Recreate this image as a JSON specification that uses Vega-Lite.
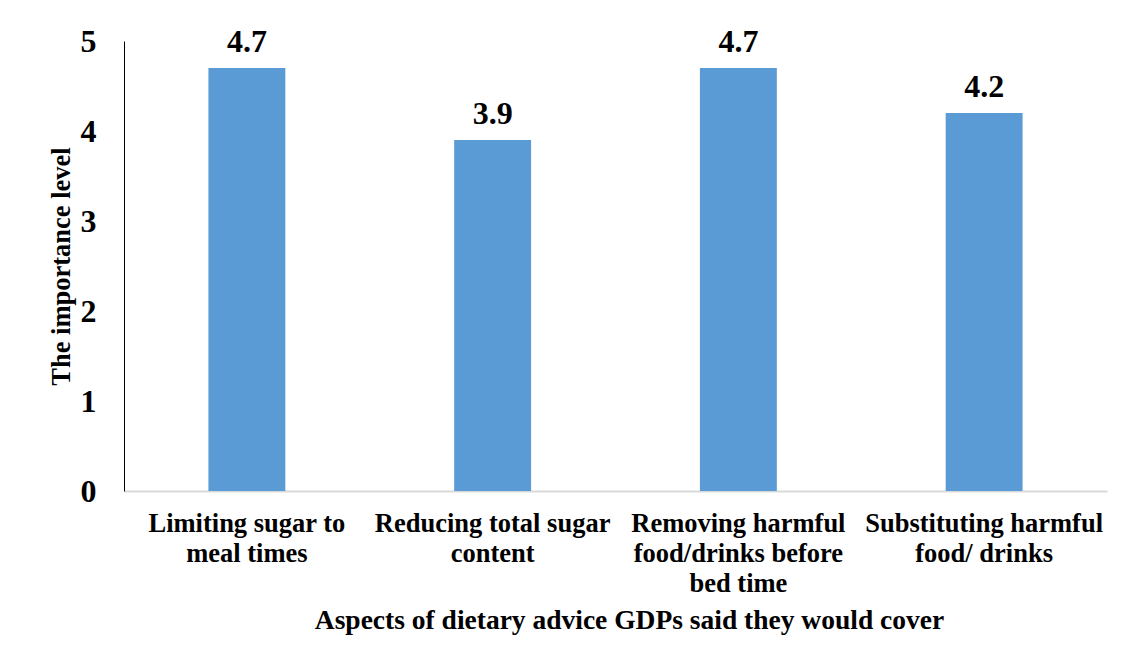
{
  "$schema": "https://vega.github.io/schema/vega-lite/v6.json",
  "autosize": {"type": "none"},
  "width": 983,
  "height": 450,
  "padding": {"left": 124, "top": 41, "right": 26, "bottom": 173},
  "background": "white",
  "config": {
    "view": {"stroke": null},
    "font": "Times New Roman, Liberation Serif, serif"
  },
  "data": {
    "values": [
      {"aspect": "Limiting sugar to|meal times", "level": 4.7},
      {"aspect": "Reducing total sugar|content", "level": 3.9},
      {"aspect": "Removing harmful|food/drinks before|bed time", "level": 4.7},
      {"aspect": "Substituting harmful|food/ drinks", "level": 4.2}
    ]
  },
  "encoding": {
    "x": {
      "field": "aspect",
      "type": "nominal",
      "sort": null,
      "scale": {"paddingInner": 0, "paddingOuter": 0},
      "axis": {
        "title": "Aspects of dietary advice GDPs said they would cover",
        "titleFont": "Times New Roman, Liberation Serif, serif",
        "titleFontSize": 27.5,
        "titleFontWeight": "bold",
        "titleColor": "black",
        "titlePadding": 10,
        "titleX": 505,
        "titleAlign": "center",
        "labelExpr": "split(datum.label, '|')",
        "labelAngle": 0,
        "labelFont": "Times New Roman, Liberation Serif, serif",
        "labelFontSize": 26.5,
        "labelFontWeight": "bold",
        "labelColor": "black",
        "labelLineHeight": 30,
        "labelPadding": 19,
        "labelLimit": 0,
        "ticks": false,
        "tickSize": 0,
        "domainColor": "#D9D9D9",
        "domainWidth": 2,
        "grid": false
      }
    },
    "y": {
      "field": "level",
      "type": "quantitative",
      "scale": {"domain": [0, 5], "nice": false},
      "axis": {
        "title": "The importance level",
        "titleFont": "Times New Roman, Liberation Serif, serif",
        "titleFontSize": 26.5,
        "titleFontWeight": "bold",
        "titleColor": "black",
        "titlePadding": 5,
        "values": [0, 1, 2, 3, 4, 5],
        "labelFont": "Times New Roman, Liberation Serif, serif",
        "labelFontSize": 32,
        "labelFontWeight": "bold",
        "labelColor": "black",
        "labelPadding": 28,
        "labelFlush": false,
        "labelBaseline": "middle",
        "ticks": false,
        "tickSize": 0,
        "domainColor": "black",
        "domainWidth": 1,
        "grid": false
      }
    }
  },
  "layer": [
    {
      "mark": {"type": "bar", "color": "#5B9BD5", "width": {"band": 0.313}}
    },
    {
      "mark": {
        "type": "text",
        "font": "Times New Roman, Liberation Serif, serif",
        "fontSize": 32,
        "fontWeight": "bold",
        "color": "black",
        "baseline": "alphabetic",
        "dy": -16
      },
      "encoding": {
        "text": {"field": "level", "type": "quantitative", "format": ".1f"}
      }
    }
  ]
}
